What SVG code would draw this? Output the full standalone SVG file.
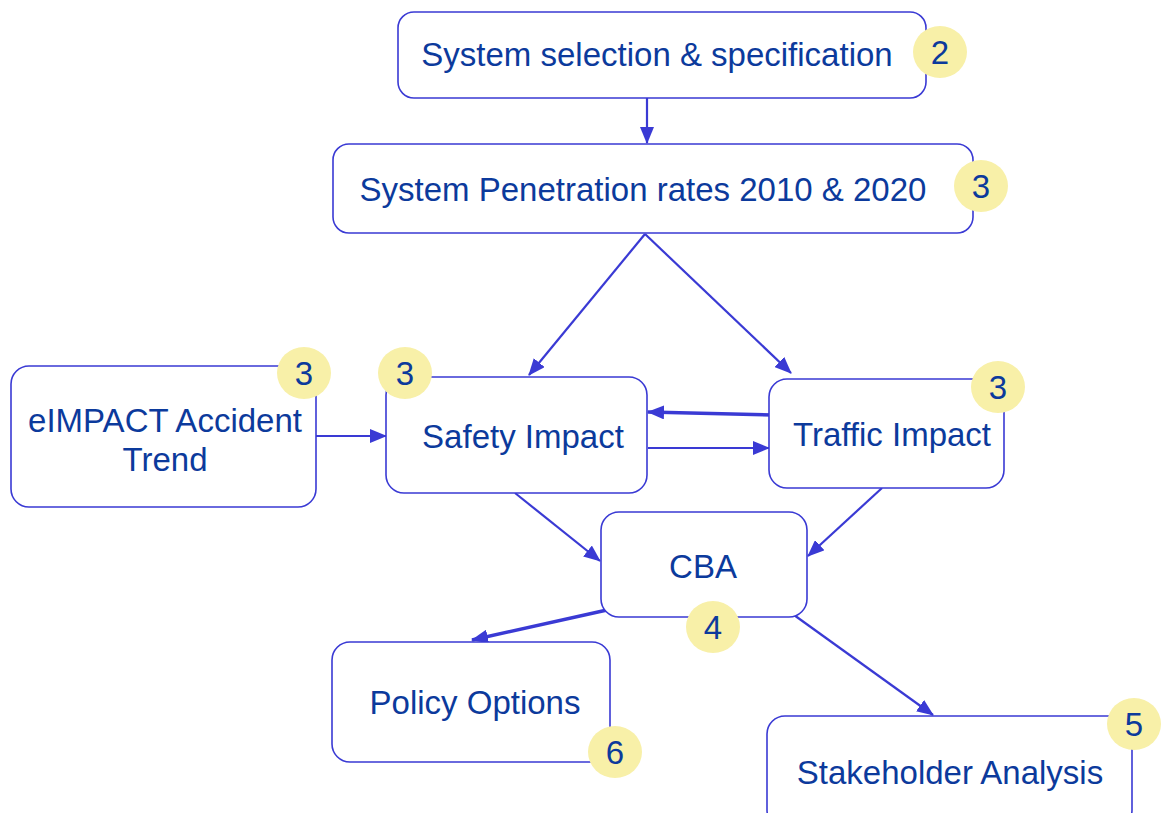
<svg xmlns="http://www.w3.org/2000/svg" width="1166" height="813" viewBox="0 0 1166 813">
<style>
.box{fill:#ffffff;stroke:#3a3ad4;stroke-width:1.6}
.lbl{font-family:"Liberation Sans",Arial,sans-serif;font-size:33px;fill:#0c3a9c;text-anchor:middle}
.badge{fill:#f8f0a8}
.num{font-family:"Liberation Sans",Arial,sans-serif;font-size:33px;fill:#0c3a9c;text-anchor:middle}
.con{stroke:#3a3ad4;stroke-width:2.2;fill:none;marker-end:url(#ah)}
.thick{stroke-width:3.5}
</style>
<defs>
<marker id="ah" markerUnits="userSpaceOnUse" markerWidth="18" markerHeight="14" refX="16" refY="7" orient="auto">
<path d="M0,0 L17,7 L0,14 z" fill="#3a3ad4"/>
</marker>
</defs>
<rect width="1166" height="813" fill="#ffffff"/>
<g id="connectors">
<line class="con" x1="647" y1="98" x2="647" y2="143"/>
<line class="con" x1="645" y1="234" x2="529" y2="375"/>
<line class="con" x1="645" y1="234" x2="791" y2="373"/>
<line class="con" x1="316" y1="436" x2="386" y2="436"/>
<line class="con thick" x1="773" y1="415" x2="648" y2="412"/>
<line class="con" x1="648" y1="448" x2="769" y2="448"/>
<line class="con" x1="515" y1="493" x2="600" y2="561"/>
<line class="con" x1="882" y1="488" x2="808" y2="556"/>
<line class="con thick" x1="607" y1="610" x2="472" y2="640"/>
<line class="con" x1="794" y1="615" x2="933" y2="715"/>
</g>
<g id="n-system-selection">
<rect class="box" x="398" y="12" width="528" height="86" rx="16"/>
<text class="lbl" x="657" y="66">System selection &amp; specification</text>
<ellipse class="badge" cx="940" cy="52" rx="27" ry="26"/>
<text class="num" x="940" y="64">2</text>
</g>
<g id="n-penetration">
<rect class="box" x="333" y="144" width="640" height="89" rx="16"/>
<text class="lbl" x="643" y="201">System Penetration rates 2010 &amp; 2020</text>
<ellipse class="badge" cx="981" cy="186" rx="27" ry="26"/>
<text class="num" x="981" y="198">3</text>
</g>
<g id="n-eimpact">
<rect class="box" x="11" y="366" width="305" height="141" rx="18"/>
<text class="lbl" x="165" y="432">eIMPACT Accident</text>
<text class="lbl" x="165" y="471">Trend</text>
<ellipse class="badge" cx="304" cy="373" rx="27" ry="26"/>
<text class="num" x="304" y="385">3</text>
</g>
<g id="n-safety">
<rect class="box" x="386" y="377" width="261" height="116" rx="18"/>
<text class="lbl" x="523" y="448">Safety Impact</text>
<ellipse class="badge" cx="405" cy="373" rx="27" ry="26"/>
<text class="num" x="405" y="385">3</text>
</g>
<g id="n-traffic">
<rect class="box" x="769" y="379" width="235" height="109" rx="18"/>
<text class="lbl" x="892" y="446">Traffic Impact</text>
<ellipse class="badge" cx="998" cy="387" rx="27" ry="26"/>
<text class="num" x="998" y="399">3</text>
</g>
<g id="n-cba">
<rect class="box" x="601" y="512" width="206" height="105" rx="18"/>
<text class="lbl" x="703" y="578">CBA</text>
<ellipse class="badge" cx="713" cy="627" rx="27" ry="26"/>
<text class="num" x="713" y="639">4</text>
</g>
<g id="n-policy">
<rect class="box" x="332" y="642" width="278" height="120" rx="18"/>
<text class="lbl" x="475" y="714">Policy Options</text>
<ellipse class="badge" cx="615" cy="752" rx="27" ry="26"/>
<text class="num" x="615" y="764">6</text>
</g>
<g id="n-stakeholder">
<rect class="box" x="767" y="716" width="365" height="112" rx="18"/>
<text class="lbl" x="950" y="784">Stakeholder Analysis</text>
<ellipse class="badge" cx="1134" cy="724" rx="27" ry="26"/>
<text class="num" x="1134" y="736">5</text>
</g>
</svg>
